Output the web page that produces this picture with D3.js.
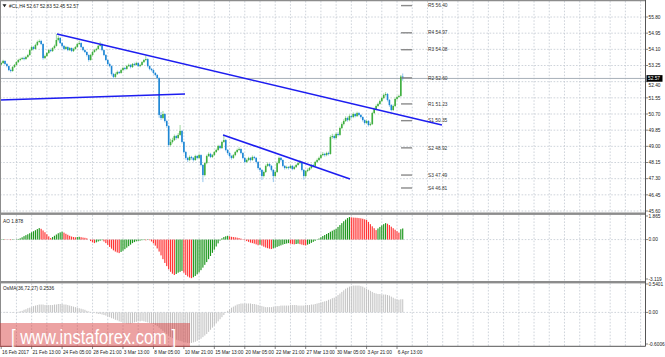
<!DOCTYPE html>
<html><head><meta charset="utf-8">
<script src="https://cdn.jsdelivr.net/npm/d3@7"></script>
<style>body{margin:0;background:#fff;} svg{display:block;font-family:"Liberation Sans",Arial,sans-serif;}</style>
</head><body><svg id="c" width="665" height="357"></svg>
<script>
// ---------- DATA ----------
const symbolTitle = "#CL,H4 52.67 52.83 52.45 52.57";
const firstOpen = 53.30;
const closes = [53.38,53.49,53.33,53.22,53.01,52.96,53.17,53.28,53.43,53.54,
 53.59,53.64,53.59,53.70,53.80,54.06,54.22,54.12,54.33,54.49,
 54.54,54.38,53.64,53.75,53.91,54.06,54.01,54.17,54.28,54.59,
 54.70,54.43,54.28,54.12,54.22,54.06,54.17,54.01,54.12,54.22,
 54.38,54.43,54.22,54.06,53.96,53.80,53.54,53.80,53.96,54.06,
 54.12,54.28,54.38,54.06,53.80,53.54,53.33,53.22,52.80,52.65,
 52.80,52.91,52.86,53.01,53.12,53.07,53.22,53.28,53.17,53.33,
 53.28,53.38,53.22,53.28,53.43,53.54,53.59,53.22,53.07,53.01,
 52.86,52.75,52.59,50.65,50.49,50.70,50.33,50.07,49.07,49.23,
 49.33,49.54,49.44,49.60,49.81,49.23,48.70,48.39,48.28,48.44,
 48.39,48.28,48.49,48.39,48.54,48.02,47.49,48.12,48.49,48.60,
 48.44,48.54,48.70,48.81,49.02,48.91,49.23,49.33,48.81,48.65,
 48.49,48.39,48.54,48.70,48.81,48.86,48.65,48.39,48.18,48.28,
 48.39,48.28,48.44,48.39,48.18,47.86,47.76,47.44,47.65,47.97,
 48.07,47.97,47.76,47.44,47.65,48.12,48.39,48.28,47.97,47.86,
 47.91,47.86,47.97,47.81,47.91,48.02,48.12,48.18,47.76,47.44,
 47.70,47.76,47.86,48.02,47.97,48.18,48.28,48.39,48.54,48.60,
 48.54,48.65,48.60,49.49,49.54,49.44,49.65,49.60,49.96,50.17,
 50.33,50.49,50.38,50.59,50.54,50.70,50.59,50.75,50.65,50.54,
 50.38,50.23,50.33,50.12,50.17,50.75,50.96,51.12,51.23,51.38,
 51.54,51.70,51.75,51.44,51.17,50.91,51.12,51.49,51.59,51.65,
 52.67,52.57];
const highs = [53.45,53.55,53.52,53.38,53.25,53.08,53.22,53.33,53.48,53.60,
 53.66,53.70,53.72,53.76,53.86,54.12,54.30,54.28,54.40,54.56,
 54.62,54.60,54.42,53.82,53.96,54.12,54.14,54.22,54.35,54.91,
 54.82,54.74,54.48,54.32,54.28,54.26,54.22,54.20,54.18,54.28,
 54.44,54.56,54.47,54.26,54.10,54.00,53.84,53.86,54.02,54.12,
 54.18,54.34,54.50,54.42,54.10,53.85,53.58,53.40,53.26,52.86,
 52.88,52.98,52.96,53.08,53.18,53.18,53.28,53.35,53.32,53.38,
 53.40,53.45,53.42,53.34,53.48,53.60,53.78,53.63,53.26,53.12,
 53.05,52.90,52.80,52.63,50.80,50.86,50.75,50.40,50.12,49.40,
 49.45,49.62,49.60,49.70,50.12,49.86,49.28,48.76,48.45,48.52,
 48.50,48.44,48.56,48.54,48.62,48.58,48.06,48.18,48.56,48.68,
 48.66,48.60,48.76,48.88,49.08,49.08,49.30,49.62,49.38,48.86,
 48.70,48.55,48.60,48.76,48.88,48.95,48.90,48.70,48.44,48.35,
 48.45,48.44,48.52,48.50,48.44,48.22,47.92,47.80,47.72,48.04,
 48.16,48.12,48.02,47.80,47.72,48.20,48.46,48.44,48.32,48.02,
 47.98,47.96,48.04,48.02,47.98,48.08,48.18,48.28,48.22,47.80,
 47.76,47.84,47.92,48.08,48.08,48.24,48.36,48.46,48.62,48.70,
 48.66,48.72,48.72,49.58,49.66,49.62,49.72,49.74,50.04,50.26,
 50.42,50.58,50.56,50.68,50.66,50.78,50.76,50.82,50.80,50.70,
 50.58,50.42,50.40,50.38,50.26,50.82,51.04,51.20,51.30,51.46,
 51.62,51.78,51.85,51.80,51.48,51.22,51.20,51.56,51.66,51.72,
 52.75,52.83];
const lows = [53.25,53.33,53.28,53.15,52.95,52.88,52.92,53.12,53.25,53.38,
 53.48,53.55,53.52,53.55,53.65,53.76,54.00,54.05,54.08,54.28,
 54.44,54.32,53.55,53.58,53.70,53.86,53.95,53.96,54.12,54.24,
 54.52,54.38,54.20,54.05,54.08,54.00,54.01,53.95,53.96,54.08,
 54.18,54.33,54.16,54.00,53.90,53.72,53.45,53.50,53.75,53.92,
 54.00,54.08,54.24,54.00,53.74,53.48,53.26,53.15,52.72,52.55,
 52.60,52.75,52.80,52.82,52.96,53.00,53.02,53.17,53.10,53.12,
 53.22,53.24,53.16,53.16,53.24,53.38,53.48,53.15,53.00,52.94,
 52.78,52.68,52.52,50.50,50.38,50.42,50.25,49.98,48.95,49.00,
 49.15,49.28,49.35,49.38,49.55,49.15,48.62,48.30,48.18,48.22,
 48.30,48.20,48.24,48.32,48.34,47.95,47.12,47.42,48.06,48.44,
 48.38,48.38,48.50,48.66,48.76,48.85,48.86,49.18,48.74,48.56,
 48.40,48.30,48.34,48.48,48.64,48.75,48.58,48.32,48.10,48.12,
 48.22,48.20,48.24,48.32,48.10,47.78,47.66,47.23,47.36,47.60,
 47.92,47.90,47.68,47.12,47.38,47.60,48.06,48.20,47.90,47.78,
 47.80,47.78,47.82,47.74,47.76,47.86,47.98,48.06,47.68,47.25,
 47.38,47.64,47.70,47.80,47.90,47.92,48.12,48.22,48.34,48.48,
 48.46,48.48,48.52,48.56,49.40,49.36,49.38,49.52,49.55,49.90,
 50.10,50.28,50.30,50.32,50.46,50.48,50.52,50.54,50.58,50.46,
 50.30,50.14,50.18,50.04,50.06,50.12,50.70,50.90,51.06,51.18,
 51.32,51.48,51.62,51.36,51.08,50.84,50.86,51.06,51.42,51.54,
 51.60,52.45];
const aoValues = [0.02,0.04,0.03,0.01,-0.02,-0.04,-0.03,-0.01,0.02,0.05,
 0.10,0.18,0.27,0.35,0.42,0.50,0.58,0.66,0.74,0.83,0.91,
 0.85,0.72,0.58,0.42,0.25,0.12,
 0.20,0.30,0.40,0.50,0.57,0.62,
 0.55,0.46,0.38,0.30,0.24,0.20,0.18,
 0.20,0.22,0.19,0.16,0.14,0.10,
 0.00,-0.12,-0.22,-0.28,
 -0.22,-0.15,-0.09,-0.05,
 -0.15,-0.28,-0.42,-0.58,-0.72,-0.85,-0.95,-1.02,-1.07,
 -0.98,-0.88,-0.76,-0.64,-0.52,-0.40,-0.28,-0.20,
 -0.14,-0.10,-0.08,-0.05,-0.04,-0.06,-0.03,-0.05,
 -0.15,-0.30,-0.48,-0.70,-0.95,-1.25,-1.55,-1.85,-2.10,-2.35,-2.55,-2.70,-2.80,
 -2.72,-2.62,-2.55,-2.48,
 -2.62,-2.80,-2.92,-3.00,-3.05,
 -2.98,-2.88,-2.75,-2.60,-2.42,-2.22,-2.00,-1.78,-1.55,-1.30,-1.05,-0.80,-0.55,-0.30,-0.08,
 0.10,0.20,0.26,0.30,
 0.26,0.22,0.20,0.18,0.15,0.12,0.08,0.03,-0.05,
 -0.12,-0.18,-0.24,-0.28,-0.32,
 -0.38,-0.45,-0.40,-0.48,-0.56,-0.63,-0.68,-0.72,-0.75,
 -0.70,-0.64,-0.58,-0.52,-0.46,-0.40,-0.35,-0.31,-0.28,
 -0.32,-0.36,-0.38,-0.35,-0.32,-0.36,-0.40,-0.44,-0.46,-0.40,-0.34,
 -0.26,-0.18,-0.10,-0.02,0.08,0.18,
 0.28,0.36,0.44,0.52,0.62,0.70,0.78,0.85,
 1.00,1.15,1.30,1.45,1.58,1.70,1.78,
 1.76,1.74,1.73,1.72,1.70,1.68,1.65,1.60,1.55,
 1.40,1.22,1.05,0.90,0.75,
 0.88,1.00,1.12,1.22,1.30,
 1.25,1.15,1.02,0.90,0.78,0.66,0.55,
 0.82,0.88];
const osmaValues = [0.00,0.00,0.01,0.01,0.00,0.00,-0.01,0.00,0.01,0.01,
 0.02,0.03,0.05,0.06,0.08,0.09,0.10,0.12,0.13,0.14,0.15,
 0.15,0.15,0.14,0.14,0.14,0.14,
 0.14,0.15,0.15,0.16,0.16,0.16,0.15,0.15,
 0.14,0.13,0.12,0.11,0.10,0.09,0.08,0.07,0.06,0.05,0.03,
 0.02,0.01,0.00,-0.01,-0.02,-0.03,-0.03,
 -0.04,-0.05,-0.06,-0.08,-0.09,-0.11,-0.12,-0.14,-0.15,-0.17,-0.18,-0.19,-0.20,-0.21,
 -0.21,-0.21,-0.20,-0.19,-0.18,-0.17,-0.17,-0.16,-0.17,
 -0.18,-0.19,-0.20,-0.21,-0.22,-0.24,-0.26,-0.29,-0.32,
 -0.35,-0.38,-0.41,-0.44,-0.47,-0.49,-0.51,-0.52,-0.53,-0.54,-0.55,-0.56,-0.57,-0.58,
 -0.58,-0.58,-0.57,-0.56,-0.54,-0.52,
 -0.50,-0.47,-0.44,-0.41,-0.37,-0.33,-0.29,-0.25,-0.21,-0.17,-0.13,-0.09,-0.05,-0.01,
 0.03,0.06,0.09,0.11,0.13,0.15,0.16,0.17,0.17,
 0.17,0.17,0.17,0.17,0.16,0.16,0.15,0.14,
 0.13,0.12,0.11,0.10,0.10,0.10,0.10,0.11,0.11,0.12,
 0.12,0.13,0.13,0.13,0.13,0.13,0.14,0.14,0.14,0.14,0.13,0.13,0.13,0.13,0.14,0.14,0.14,0.15,0.15,0.16,0.17,0.18,
 0.19,0.20,0.21,0.22,0.24,0.25,0.27,0.28,
 0.30,0.33,0.36,0.39,0.42,0.45,0.47,0.49,
 0.50,0.51,0.51,0.51,0.51,0.50,
 0.49,0.47,0.45,0.43,0.41,0.39,0.37,0.36,
 0.35,0.35,0.34,0.34,0.34,0.33,
 0.32,0.30,0.28,0.26,0.25,0.24,
 0.25,0.25];
const timeLabels = ["16 Feb 2017","21 Feb 13:00","24 Feb 05:00","28 Feb 21:00","3 Mar 13:00","8 Mar 05:00","10 Mar 21:00","15 Mar 13:00","20 Mar 05:00","22 Mar 21:00","27 Mar 13:00","30 Mar 05:00","3 Apr 21:00","6 Apr 13:00"];
const priceTicks = [55.80,54.95,54.10,53.25,52.40,51.55,50.70,49.85,49.00,48.15,47.30,46.45,45.60];
const pivotNames = ["R5","R4","R3","R2","R1","S1","S2","S3","S4"];
const pivotValues = [56.40,54.97,54.08,52.60,51.23,50.35,48.92,47.49,46.81];
// trendlines: [barFrom, priceFrom, barTo, priceTo]
const trendlines = [[29.3,54.91,231.6,50.12],[-0.6,51.44,96.6,51.75],[116.6,49.60,183.3,47.28]];
const aoTicks = [1.865,0.00,-3.119];
const osmaTicks = [0.5401,0.00,-0.6006];
const aoLabel = "AO 1.878";
const osmaLabel = "OsMA(36,72,27) 0.2536";
const watermark = "[ www.instaforex.com ]";

// ---------- LAYOUT ----------
const svg = d3.select("#c");
const axisX = 645.5;
const x = d3.scaleLinear().domain([0, 336]).range([1.2, 1.2 + 336 * 1.903]);
const yP = d3.scaleLinear().domain([45.60, 55.80]).range([211, 17]);
const yAO = d3.scaleLinear().domain([-3.119, 1.865]).range([279, 216]);
const yOS = d3.scaleLinear().domain([-0.6006, 0.5401]).range([344, 284]);
const panels = [[1, 212.5], [215, 281], [283.5, 346]];
const gridColor = "#c3c9d2";
const fs = 4.8;

svg.append("rect").attr("width", 665).attr("height", 357).attr("fill", "#fff");

// vertical grid
const gridBars = d3.range(8, 337, 8);
panels.forEach(([t, b]) => {
  svg.append("g").selectAll("line").data(gridBars).join("line")
    .attr("x1", d => x(d)).attr("x2", d => x(d)).attr("y1", t).attr("y2", b)
    .attr("stroke", gridColor).attr("stroke-width", 0.8).attr("stroke-dasharray", "1.6,1.6");
});
// horizontal grid main
svg.append("g").selectAll("line").data(priceTicks).join("line")
  .attr("x1", 0).attr("x2", axisX).attr("y1", d => yP(d)).attr("y2", d => yP(d))
  .attr("stroke", gridColor).attr("stroke-width", 0.8).attr("stroke-dasharray", "1.6,1.6");
// zero lines
[yAO(0), yOS(0)].forEach(yy => {
  svg.append("line").attr("x1", 0).attr("x2", axisX).attr("y1", yy).attr("y2", yy)
    .attr("stroke", gridColor).attr("stroke-width", 0.8).attr("stroke-dasharray", "1.6,1.6");
});

// bid line
const last = closes.length - 1;
svg.append("line").attr("x1", 0).attr("x2", axisX).attr("y1", yP(closes[last])).attr("y2", yP(closes[last]))
  .attr("stroke", "#a7afb8").attr("stroke-width", 1);

// candles
const bars = closes.map((c, i) => ({ i, o: i === 0 ? firstOpen : closes[i - 1], c, h: highs[i], l: lows[i] }));
const cg = svg.append("g");
cg.selectAll("line").data(bars).join("line")
  .attr("x1", d => x(d.i)).attr("x2", d => x(d.i))
  .attr("y1", d => yP(d.h)).attr("y2", d => yP(d.l))
  .attr("stroke", d => d.c >= d.o ? "#9fd79f" : "#93c6ee").attr("stroke-width", 1);
cg.selectAll("rect").data(bars).join("rect")
  .attr("x", d => x(d.i) - 0.8).attr("width", 1.6)
  .attr("y", d => yP(Math.max(d.o, d.c)))
  .attr("height", d => Math.max(0.8, Math.abs(yP(d.o) - yP(d.c))))
  .attr("fill", d => d.c >= d.o ? "#3fae3f" : "#1c86d4");

// pivots
const pg = svg.append("g");
pivotValues.forEach((v, k) => {
  pg.append("line").attr("x1", x(210.1)).attr("x2", x(215.9)).attr("y1", yP(v)).attr("y2", yP(v))
    .attr("stroke", "#8a8a8a").attr("stroke-width", 1.4);
  pg.append("text").attr("x", x(224.3)).attr("y", yP(v)).attr("dy", "0.35em")
    .attr("font-size", fs).attr("fill", "#333").text(pivotNames[k] + " " + v.toFixed(2));
});

// trendlines
svg.append("g").selectAll("line").data(trendlines).join("line")
  .attr("x1", d => x(d[0])).attr("y1", d => yP(d[1])).attr("x2", d => x(d[2])).attr("y2", d => yP(d[3]))
  .attr("stroke", "#1d1df0").attr("stroke-width", 1.5);

// AO
svg.append("g").selectAll("rect").data(aoValues).join("rect")
  .attr("x", (d, i) => x(i) - 0.6).attr("width", 1.15)
  .attr("y", d => Math.min(yAO(0), yAO(d)))
  .attr("height", d => Math.abs(yAO(d) - yAO(0)))
  .attr("fill", (d, i) => (i === 0 || d > aoValues[i - 1]) ? "#1c961c" : "#ff3434");

// OsMA
svg.append("g").selectAll("rect").data(osmaValues).join("rect")
  .attr("x", (d, i) => x(i) - 0.5).attr("width", 1)
  .attr("y", d => Math.min(yOS(0), yOS(d)))
  .attr("height", d => Math.abs(yOS(d) - yOS(0)))
  .attr("fill", "#c2c2c2");

// borders & separators
svg.append("rect").attr("x", 0).attr("y", 212.5).attr("width", axisX).attr("height", 2.4).attr("fill", "#8c8c8c");
svg.append("rect").attr("x", 0).attr("y", 281).attr("width", axisX).attr("height", 2.4).attr("fill", "#8c8c8c");
svg.append("line").attr("x1", 0).attr("x2", axisX).attr("y1", 0.6).attr("y2", 0.6).attr("stroke", "#8c8c8c").attr("stroke-width", 1.2);
svg.append("line").attr("x1", 0).attr("x2", axisX).attr("y1", 346.3).attr("y2", 346.3).attr("stroke", "#555").attr("stroke-width", 1);
svg.append("line").attr("x1", 0.5).attr("x2", 0.5).attr("y1", 0).attr("y2", 346.3).attr("stroke", "#8c8c8c").attr("stroke-width", 1);
svg.append("line").attr("x1", axisX).attr("x2", axisX).attr("y1", 0).attr("y2", 346.3).attr("stroke", "#555").attr("stroke-width", 1);

// current price (computed first so a crowded tick label can step aside)
const yb = yP(closes[last]);

// right axis labels
function rightLabels(ticks, scale, fmt, avoidY) {
  const g = svg.append("g");
  ticks.forEach(t => {
    let ty = scale(t);
    g.append("line").attr("x1", axisX).attr("x2", axisX + 2.5).attr("y1", ty).attr("y2", ty).attr("stroke", "#555").attr("stroke-width", 0.7);
    if (avoidY !== undefined && Math.abs(ty - avoidY) < 6.5) ty = avoidY + (ty >= avoidY ? 6.6 : -6.6);
    g.append("text").attr("x", axisX + 3).attr("y", ty).attr("dy", "0.35em")
      .attr("font-size", fs).attr("fill", "#222").text(fmt(t));
  });
}
rightLabels(priceTicks, yP, d => d.toFixed(2), yb);
rightLabels(aoTicks, yAO, d => d === 0 ? "0.00" : d.toFixed(3));
rightLabels(osmaTicks, yOS, d => d === 0 ? "0.00" : d.toFixed(4));

// current price box
svg.append("rect").attr("x", axisX + 1).attr("y", yb - 3.3).attr("width", 16).attr("height", 6.6).attr("fill", "#000");
svg.append("text").attr("x", axisX + 2.5).attr("y", yb).attr("dy", "0.35em").attr("font-size", fs)
  .attr("fill", "#fff").text(closes[last].toFixed(2));

// bottom time axis
const tg = svg.append("g");
timeLabels.forEach((t, k) => {
  const xx = x(k * 16);
  tg.append("line").attr("x1", xx).attr("x2", xx).attr("y1", 346.3).attr("y2", 349).attr("stroke", "#555").attr("stroke-width", 0.7);
  tg.append("text").attr("x", xx + 0.8).attr("y", 353.5).attr("font-size", fs).attr("fill", "#222").text(t);
});

// header & indicator labels
svg.append("path").attr("d", "M2.5,4.3 L6.5,4.3 L4.5,7.3 Z").attr("fill", "#222");
svg.append("text").attr("x", 9).attr("y", 7.5).attr("font-size", fs).attr("fill", "#222").text(symbolTitle);
svg.append("text").attr("x", 3).attr("y", 222.5).attr("font-size", fs).attr("fill", "#222").text(aoLabel);
svg.append("text").attr("x", 3).attr("y", 290).attr("font-size", fs).attr("fill", "#222").text(osmaLabel);

// watermark
svg.append("rect").attr("x", 0).attr("y", 323).attr("width", 190).attr("height", 24).attr("fill", "rgba(212,48,48,0.45)");
svg.append("text").attr("x", 11).attr("y", 344).attr("font-size", 21).attr("fill", "#fff")
  .attr("textLength", 165).attr("lengthAdjust", "spacingAndGlyphs").text(watermark);
</script></body></html>
